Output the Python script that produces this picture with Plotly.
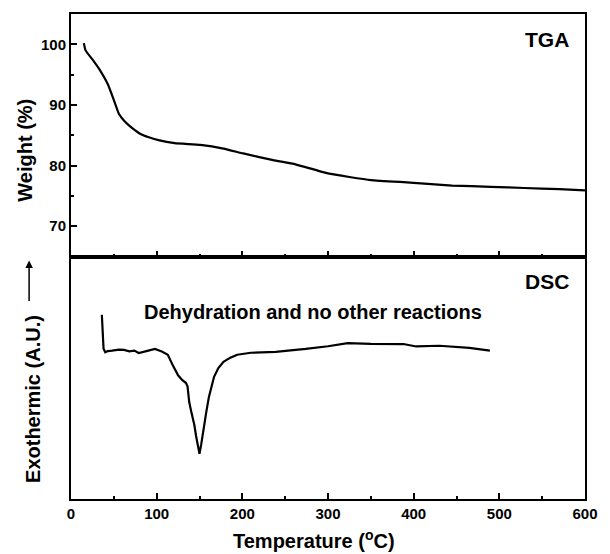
import plotly.graph_objects as go
from plotly.subplots import make_subplots

# TGA data (temperature in °C, weight %)
tga_temp = [15, 17, 25, 33, 43, 50, 56, 62, 68, 75, 81, 90, 102, 121, 151, 178, 201, 236, 262, 300, 350, 396, 445, 490, 529, 570, 600]
tga_weight = [100.2, 99.0, 97.5, 95.9, 93.4, 90.8, 88.5, 87.4, 86.6, 85.8, 85.2, 84.7, 84.2, 83.7, 83.4, 82.8, 82.0, 80.9, 80.2, 78.7, 77.6, 77.2, 76.7, 76.5, 76.3, 76.1, 75.9]

# DSC data (temperature in °C, arbitrary units)
dsc_temp = [36, 37, 38, 40, 43, 48, 56, 62, 68, 74, 79, 88, 98, 106, 113, 119, 125, 130, 134, 136, 138, 141, 144, 146, 148, 150, 152, 155, 158, 161, 164, 167, 172, 178, 186, 194, 210, 239, 274, 300, 323, 350, 388, 403, 430, 465, 489]
dsc_signal = [76.0, 70.0, 62.0, 60.5, 61.0, 61.2, 61.6, 61.5, 60.9, 61.2, 60.2, 61.0, 61.9, 60.8, 59.5, 55.0, 51.0, 49.0, 47.9, 46.5, 40.0, 35.0, 30.5, 26.0, 22.0, 18.6, 22.5, 29.8, 36.0, 42.1, 46.5, 50.4, 54.0, 56.6, 58.3, 59.5, 60.3, 60.7, 61.9, 63.0, 64.3, 64.0, 63.9, 62.9, 63.2, 62.3, 61.2]

x_ticks = [0, 100, 200, 300, 400, 500, 600]
tga_ticks = [70, 80, 90, 100]

FONT = "Liberation Sans, Arial, sans-serif"

fig = make_subplots(rows=2, cols=1, shared_xaxes=True, vertical_spacing=0)

fig.add_trace(go.Scatter(x=tga_temp, y=tga_weight, mode="lines",
                         line=dict(color="black", width=2.2, shape="spline", smoothing=0.4),
                         showlegend=False), row=1, col=1)
fig.add_trace(go.Scatter(x=dsc_temp, y=dsc_signal, mode="lines",
                         line=dict(color="black", width=2.2),
                         showlegend=False), row=2, col=1)

axis_common = dict(showline=True, linecolor="black", linewidth=2, mirror=True,
                   showgrid=False, zeroline=False)
tick_font = dict(family=FONT, size=15, color="black", weight="bold")

fig.update_xaxes(range=[0, 600], tickvals=x_ticks, ticks="inside", ticklen=6, tickwidth=2,
                 tickcolor="black", minor=dict(dtick=50, ticks="inside", ticklen=3, tickwidth=1.5, tickcolor="black"),
                 **axis_common)
fig.update_xaxes(showticklabels=False, row=1, col=1)
fig.update_xaxes(showticklabels=True, tickfont=tick_font, row=2, col=1)

fig.update_yaxes(range=[65, 105], tickvals=tga_ticks, ticks="inside", ticklen=6, tickwidth=2,
                 tickcolor="black", minor=dict(dtick=5, ticks="inside", ticklen=3, tickwidth=1.5, tickcolor="black"),
                 tickfont=tick_font, row=1, col=1, **axis_common)
fig.update_yaxes(range=[0, 100], showticklabels=False, ticks="", row=2, col=1, **axis_common)

fig.update_layout(
    width=610, height=554,
    margin=dict(l=71, r=15, t=13, b=55),
    paper_bgcolor="white", plot_bgcolor="white",
    font=dict(family=FONT, color="black"),
)
fig.layout.yaxis.domain = [0.5, 1.0]
fig.layout.yaxis2.domain = [0.0, 0.5]

def ann(text, x, y, size, xref="paper", yref="paper", angle=0, xanchor="center"):
    fig.add_annotation(text=text, x=x, y=y, xref=xref, yref=yref, showarrow=False,
                       textangle=angle, xanchor=xanchor, yanchor="middle",
                       font=dict(family=FONT, size=size, color="black", weight="bold"))

ann("TGA", 584, 100.8, 21, xref="x", yref="y", xanchor="right")
ann("DSC", 584, 89.5, 21, xref="x2", yref="y2", xanchor="right")
ann("Dehydration and no other reactions", 283, 77.3, 20, xref="x2", yref="y2")
ann("Weight (%)", -0.0897, 0.720, 20, angle=-90)
ann("Exothermic (A.U.)", -0.0744, 0.2058, 20, angle=-90)
ann("Temperature (<sup>o</sup>C)", 0.4733, -0.084, 20)

fig.add_annotation(x=-0.0815, y=0.4918, xref="paper", yref="paper", text="",
                   showarrow=True, ax=0, ay=42, arrowhead=2, arrowsize=1,
                   arrowwidth=1.5, arrowcolor="black")

fig.write_html("out.html")
